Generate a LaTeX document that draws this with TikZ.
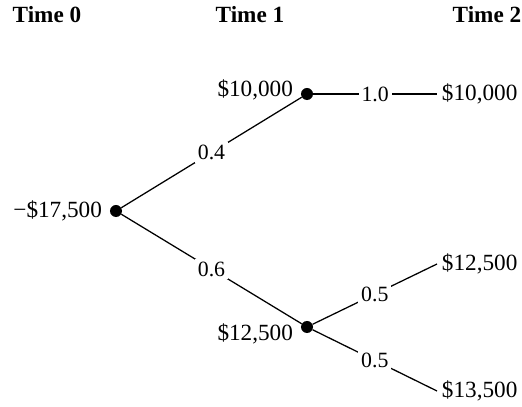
\documentclass[tikz,border=0pt]{standalone}
\usepackage{fontspec}
\setmainfont{Liberation Serif}
\usetikzlibrary{positioning}

\begin{document}
\begin{tikzpicture}[x=0.025cm, y=-0.025cm, font=\fontsize{16.5}{19}\selectfont,
		dot/.style={circle, fill, inner sep=0pt, minimum size=0.3cm},
		branch/.style={line width=0.9pt},
		prob/.style={fill=white, inner sep=2pt, font=\fontsize{15.5}{18}\selectfont},
		head/.style={font=\fontsize{16.5}{19}\selectfont\bfseries}]
		\useasboundingbox (0,0) rectangle (522,407);
		% column headings
		\foreach \x/\t in {47/0, 250/1, 487/2}
			\node[head] (h\t) at (\x,15) {Time \t};
		% decision points
		\node[dot] (n0) at (116,211) {};
		\node[dot] (n1) at (307,94) {};
		\node[dot] (n2) at (307,327) {};
		\node[left=2pt of n0] (v0) {−\$17,500};
		\node[left=2pt of n1, yshift=3pt] (v1) {\$10,000};
		\node[left=2pt of n2, yshift=-5pt] (v2) {\$12,500};
		% outcomes at time 2
		\node[anchor=west] (l1) at (437,94) {\$10,000};
		\node[anchor=west] (l2) at (437,264) {\$12,500};
		\node[anchor=west] (l3) at (437,391) {\$13,500};
		% branches with probabilities
		\draw[branch] (n0) -- node[prob] {0.4} (n1);
		\draw[branch] (n0) -- node[prob] {0.6} (n2);
		\draw[branch] (n1) -- node[prob] {1.0} (l1.west);
		\draw[branch] (n2) -- node[prob] {0.5} (l2.west);
		\draw[branch] (n2) -- node[prob] {0.5} (l3.west);
	\end{tikzpicture}
\end{document}
